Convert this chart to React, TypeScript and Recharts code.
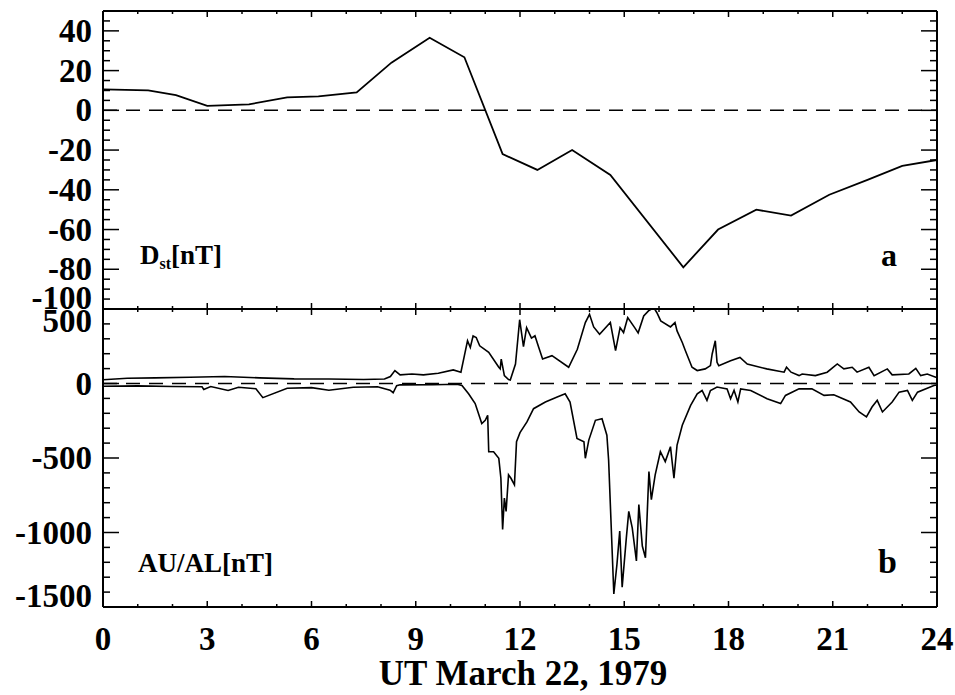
import React from "react";
import { LineChart, Line, XAxis, YAxis, ReferenceLine } from "recharts";

const FONT = "'Liberation Serif', 'Times New Roman', serif";

// Dst, hourly (UT hours)
const dstHours = [0, 1.3, 2.1, 3.0, 4.2, 5.3, 6.2, 7.3, 8.3, 9.4, 10.4, 11.5, 12.5, 13.5, 14.6, 16.7, 17.7, 18.8, 19.8, 20.9, 22.0, 23.0, 24];
const dstValues = [10.5, 10, 7.7, 2.2, 3, 6.5, 7, 9, 24, 36.5, 26.7, -22, -30, -20, -32.5, -79, -60, -50, -53, -42.5, -35, -28, -25];

// AU index
const auHours = [0, 0.7, 1.5, 2.5, 3.5, 4.5, 5.5, 6.5, 7.5, 8.1, 8.27, 8.4, 8.55, 8.89, 9.22, 9.65, 10.08, 10.3, 10.4, 10.49, 10.57, 10.65, 10.74, 10.84, 11.1, 11.39, 11.43, 11.46, 11.55, 11.67, 11.72, 11.87, 11.99, 12.1, 12.19, 12.33, 12.43, 12.54, 12.65, 12.92, 13.4, 13.65, 13.88, 14.0, 14.12, 14.29, 14.6, 14.75, 14.88, 14.98, 15.1, 15.3, 15.4, 15.56, 15.71, 15.85, 15.94, 16.05, 16.33, 16.46, 16.52, 16.67, 16.76, 16.95, 17.1, 17.33, 17.48, 17.53, 17.62, 17.67, 17.72, 18.06, 18.33, 18.54, 19.1, 19.6, 19.67, 19.8, 20.03, 20.12, 20.5, 20.84, 21.13, 21.32, 21.56, 21.7, 22.04, 22.19, 22.57, 22.71, 23.19, 23.39, 23.53, 23.72, 23.96, 24];
const auValues = [25, 35, 38, 42, 47, 38, 31, 30, 27, 30, 47, 87, 58, 64, 58, 69, 91, 76, 187, 287, 242, 320, 309, 253, 209, 109, 98, 164, 53, 27, 24, 131, 428, 248, 375, 305, 320, 242, 165, 187, 109, 230, 409, 464, 380, 331, 409, 220, 375, 342, 442, 375, 340, 453, 490, 509, 475, 420, 380, 409, 353, 275, 220, 109, 87, 98, 120, 198, 287, 142, 120, 153, 175, 131, 98, 76, 109, 76, 53, 64, 53, 76, 131, 98, 109, 76, 109, 53, 98, 58, 64, 102, 53, 64, 42, 45];

// AL index
const alHours = [0, 1, 2, 2.85, 2.9, 3.1, 3.6, 3.9, 4.4, 4.6, 5.3, 6.0, 6.5, 7.2, 7.9, 8.26, 8.35, 8.45, 8.55, 9.5, 10.19, 10.33, 10.52, 10.71, 10.9, 11.0, 11.07, 11.1, 11.24, 11.39, 11.45, 11.5, 11.55, 11.6, 11.67, 11.74, 11.84, 11.9, 12.0, 12.2, 12.39, 12.73, 13.07, 13.3, 13.44, 13.64, 13.84, 13.88, 13.98, 14.17, 14.36, 14.5, 14.55, 14.6, 14.7, 14.79, 14.87, 14.94, 15.06, 15.13, 15.23, 15.35, 15.42, 15.52, 15.61, 15.71, 15.78, 15.89, 16.04, 16.18, 16.33, 16.43, 16.52, 16.67, 16.91, 17.1, 17.24, 17.38, 17.48, 17.67, 17.96, 18.06, 18.16, 18.27, 18.35, 18.64, 19.11, 19.5, 19.64, 20.03, 20.4, 20.75, 21.03, 21.51, 21.76, 21.97, 22.13, 22.28, 22.43, 22.71, 22.91, 23.15, 23.29, 23.44, 23.91, 24];
const alValues = [-18, -16, -20, -22, -40, -20, -47, -25, -35, -95, -32, -28, -45, -25, -22, -45, -62, -15, -9, -8, -5, -13, -69, -135, -269, -247, -213, -458, -458, -502, -636, -980, -769, -858, -613, -636, -680, -391, -330, -258, -169, -124, -91, -69, -124, -369, -391, -502, -380, -247, -236, -347, -513, -813, -1413, -1213, -991, -1367, -1036, -858, -969, -1191, -813, -1091, -1169, -591, -780, -613, -458, -524, -424, -636, -413, -280, -147, -69, -47, -113, -47, -24, -36, -102, -45, -124, -36, -47, -102, -135, -80, -36, -36, -80, -76, -124, -191, -224, -158, -113, -191, -124, -58, -47, -113, -58, -13, -10];

// ticks
const hourTicks = [0, 1, 2, 3, 4, 5, 6, 7, 8, 9, 10, 11, 12, 13, 14, 15, 16, 17, 18, 19, 20, 21, 22, 23, 24];
const hourLabels = [0, 3, 6, 9, 12, 15, 18, 21, 24];
const dstTicks = [-100, -95, -90, -85, -80, -75, -70, -65, -60, -55, -50, -45, -40, -35, -30, -25, -20, -15, -10, -5, 0, 5, 10, 15, 20, 25, 30, 35, 40, 45, 50];
const dstLabels = [-100, -80, -60, -40, -20, 0, 20, 40];
const aeTicks = [-1500, -1400, -1300, -1200, -1100, -1000, -900, -800, -700, -600, -500, -400, -300, -200, -100, 0, 100, 200, 300, 400, 500];
const aeLabels = [-1500, -1000, -500, 0, 500];

const dstData = dstHours.map((t, i) => ({ t, v: dstValues[i] }));
const auData = auHours.map((t, i) => ({ t, v: auValues[i] }));
const alData = alHours.map((t, i) => ({ t, v: alValues[i] }));

const PLOT_W = 834;
const PANEL_H = 298;

function makeYTick(labels: number[], min: number, max: number) {
  return (props: any) => {
    const { x, y, payload } = props;
    const v = payload.value;
    const major = labels.includes(v);
    const len = major ? 16 : 7;
    let dy = 11;
    if (v === min) dy -= 11;
    if (v === max) dy += 12;
    return (
      <g>
        <line x1={x} y1={y} x2={x + len} y2={y} stroke="#000" strokeWidth={1.5} />
        <line x1={x + PLOT_W} y1={y} x2={x + PLOT_W - len} y2={y} stroke="#000" strokeWidth={1.5} />
        {major && (
          <text x={x - 11} y={y + dy} textAnchor="end" fontFamily={FONT} fontWeight="bold" fontSize={33} fill="#000">
            {v}
          </text>
        )}
      </g>
    );
  };
}

function makeXTick(showLabels: boolean) {
  return (props: any) => {
    const { x, y, payload } = props;
    const v = payload.value;
    const major = hourLabels.includes(v);
    const len = major ? 6 : 3;
    return (
      <g>
        <line x1={x} y1={y} x2={x} y2={y - len} stroke="#000" strokeWidth={1.5} />
        <line x1={x} y1={y - PANEL_H} x2={x} y2={y - PANEL_H + len} stroke="#000" strokeWidth={1.5} />
        {showLabels && major && (
          <text x={x} y={y + 43} textAnchor="middle" fontFamily={FONT} fontWeight="bold" fontSize={33} fill="#000">
            {v}
          </text>
        )}
      </g>
    );
  };
}

const axisLine = { stroke: "#000", strokeWidth: 2 };

export default function App() {
  return (
    <div style={{ position: "absolute", left: 0, top: 0, width: 955, height: 695, background: "#fff" }}>
      <div style={{ position: "absolute", left: 0, top: 0 }}>
        <LineChart width={955} height={330} margin={{ top: 11, right: 18, bottom: 11, left: 43 }}>
          <XAxis
            dataKey="t"
            type="number"
            domain={[0, 24]}
            ticks={hourTicks}
            interval={0}
            height={10}
            tickSize={0}
            tickMargin={0}
            tickLine={false}
            axisLine={axisLine}
            tick={makeXTick(false)}
            allowDataOverflow
          />
          <YAxis
            type="number"
            domain={[-100, 50]}
            ticks={dstTicks}
            interval={0}
            width={60}
            tickSize={0}
            tickMargin={0}
            tickLine={false}
            axisLine={axisLine}
            tick={makeYTick(dstLabels, -100, 50)}
            allowDataOverflow
          />
          <ReferenceLine y={50} stroke="#000" strokeWidth={2} />
          <ReferenceLine x={24} stroke="#000" strokeWidth={2} />
          <ReferenceLine y={0} stroke="#000" strokeWidth={1.5} strokeDasharray="14 9" />
          <Line data={dstData} dataKey="v" type="linear" dot={false} stroke="#000" strokeWidth={1.8} isAnimationActive={false} />
        </LineChart>
      </div>
      <div style={{ position: "absolute", left: 0, top: 0 }}>
        <LineChart width={955} height={695} margin={{ top: 309, right: 18, bottom: 28, left: 43 }}>
          <XAxis
            dataKey="t"
            type="number"
            domain={[0, 24]}
            ticks={hourTicks}
            interval={0}
            height={60}
            tickSize={0}
            tickMargin={0}
            tickLine={false}
            axisLine={axisLine}
            tick={makeXTick(true)}
            allowDataOverflow
          />
          <YAxis
            type="number"
            domain={[-1500, 500]}
            ticks={aeTicks}
            interval={0}
            width={60}
            tickSize={0}
            tickMargin={0}
            tickLine={false}
            axisLine={axisLine}
            tick={makeYTick(aeLabels, -1500, 500)}
            allowDataOverflow
          />
          <ReferenceLine y={500} stroke="#000" strokeWidth={2} />
          <ReferenceLine x={24} stroke="#000" strokeWidth={2} />
          <ReferenceLine y={0} stroke="#000" strokeWidth={1.5} strokeDasharray="14 9" />
          <Line data={auData} dataKey="v" type="linear" dot={false} stroke="#000" strokeWidth={1.6} isAnimationActive={false} />
          <Line data={alData} dataKey="v" type="linear" dot={false} stroke="#000" strokeWidth={1.6} isAnimationActive={false} />
        </LineChart>
      </div>
      <svg width={955} height={695} style={{ position: "absolute", left: 0, top: 0, pointerEvents: "none" }}>
        <g fontFamily={FONT} fontWeight="bold" fill="#000">
          <text x={140} y={264} fontSize={27}>
            D<tspan fontSize={16} dy={5}>st</tspan>
            <tspan fontSize={27} dy={-5}>[nT]</tspan>
          </text>
          <text x={881} y={266} fontSize={32}>a</text>
          <text x={138} y={572} fontSize={27}>AU/AL[nT]</text>
          <text x={878} y={573} fontSize={34}>b</text>
          <text x={523} y={685} fontSize={35} textAnchor="middle">UT March 22, 1979</text>
        </g>
      </svg>
    </div>
  );
}
